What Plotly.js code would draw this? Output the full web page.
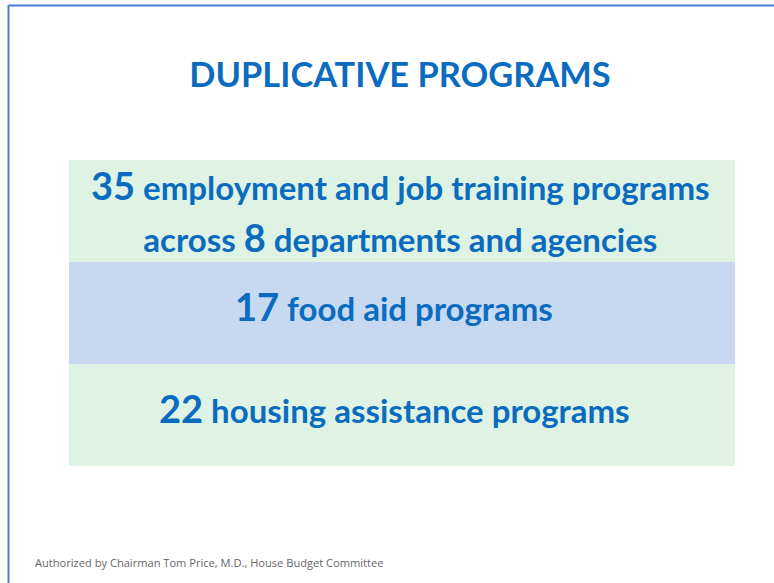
<!DOCTYPE html>
<html>
<head>
<meta charset="utf-8">
<script src="https://cdn.plot.ly/plotly-3.0.1.min.js"></script>
<style>
  html, body { margin: 0; padding: 0; background: #ffffff; }
  #chart { width: 774px; height: 583px; }
</style>
</head>
<body>
<div id="chart"></div>
<script>
// ---- data ----
const rowKeys = ['jobs', 'food', 'housing'];
const rowCounts = ['35', '17', '22'];
const rowDescriptions = ['employment and job training programs', 'food aid programs', 'housing assistance programs'];
const rowSecondCounts = ['8', '', ''];
const rowSecondPrefix = ['across', '', ''];
const rowSecondSuffix = ['departments and agencies', '', ''];
const rowFill = ['#def3e3', '#c6d9f0', '#def3e3'];
const rowWidth = [1, 1, 1];
const titleText = 'DUPLICATIVE PROGRAMS';
const footerText = 'Authorized by Chairman Tom Price, M.D., House Budget Committee';

// ---- styling ----
const BLUE = '#0b6cbf';
const FONT = 'Lato, "Open Sans", sans-serif';
const BASE_SIZE = 40;
const NUM_SIZE = 38;
const WORD_SIZE = 33;

function word(s) { return '<span style="font-size:' + WORD_SIZE + 'px">' + s + '</span>'; }
function num(s) { return '<span style="font-size:' + NUM_SIZE + 'px">' + s + '</span>'; }

const annotations = rowKeys.map((k, i) => {
  const twoLine = !!rowSecondCounts[i];
  let txt = '<b>' + num(rowCounts[i]) + word(' ' + rowDescriptions[i]);
  if (twoLine) {
    txt += '<br>' + word(rowSecondPrefix[i] + ' ') + num(rowSecondCounts[i]) + word(' ' + rowSecondSuffix[i]);
  }
  txt += '</b>';
  return {
    x: 0.5, y: k, xref: 'x', yref: 'y', text: txt, showarrow: false,
    xanchor: 'center', yanchor: 'middle',
    xshift: twoLine ? -2 : -8, yshift: twoLine ? 0 : 7,
    font: {family: FONT, size: BASE_SIZE, color: BLUE}
  };
});

// map pixel positions to paper coords
const L = 69, R = 39, T = 160, B = 117, W = 774, H = 583;
const pw = W - L - R, ph = H - T - B;
function px(xp) { return (xp - L) / pw; }
function py(yp) { return (H - B - yp) / ph; }

annotations.push({
  x: px(33), y: py(562), xref: 'paper', yref: 'paper', text: footerText, showarrow: false,
  font: {family: '"Open Sans", sans-serif', size: 11.1, color: '#666666'},
  xanchor: 'left', yanchor: 'middle'
});

const trace = {
  type: 'bar', orientation: 'h',
  y: rowKeys, x: rowWidth,
  marker: {color: rowFill, line: {width: 0}},
  hoverinfo: 'skip', showlegend: false
};

const layout = {
  width: W, height: H,
  margin: {l: L, r: R, t: T, b: B, pad: 0},
  paper_bgcolor: '#ffffff', plot_bgcolor: 'rgba(0,0,0,0)',
  bargap: 0,
  title: {
    text: '<b>' + titleText + '</b>',
    font: {family: FONT, size: 34.4, color: BLUE},
    x: 400 / W, xref: 'container', xanchor: 'center',
    y: 1 - 75 / H, yref: 'container', yanchor: 'middle'
  },
  xaxis: {range: [0, 1], visible: false, fixedrange: true},
  yaxis: {categoryorder: 'array', categoryarray: rowKeys.slice().reverse(), visible: false, fixedrange: true},
  annotations: annotations,
  shapes: [
    {type: 'line', xref: 'paper', yref: 'paper', x0: px(8.5), x1: px(8.5), y0: py(5), y1: py(583), line: {color: '#4a7fd0', width: 2}},
    {type: 'line', xref: 'paper', yref: 'paper', x0: px(8.5), x1: px(774), y0: py(5.5), y1: py(5.5), line: {color: '#4a7fd0', width: 2}}
  ]
};

Plotly.newPlot('chart', [trace], layout, {displayModeBar: false, staticPlot: true});
</script>
</body>
</html>
